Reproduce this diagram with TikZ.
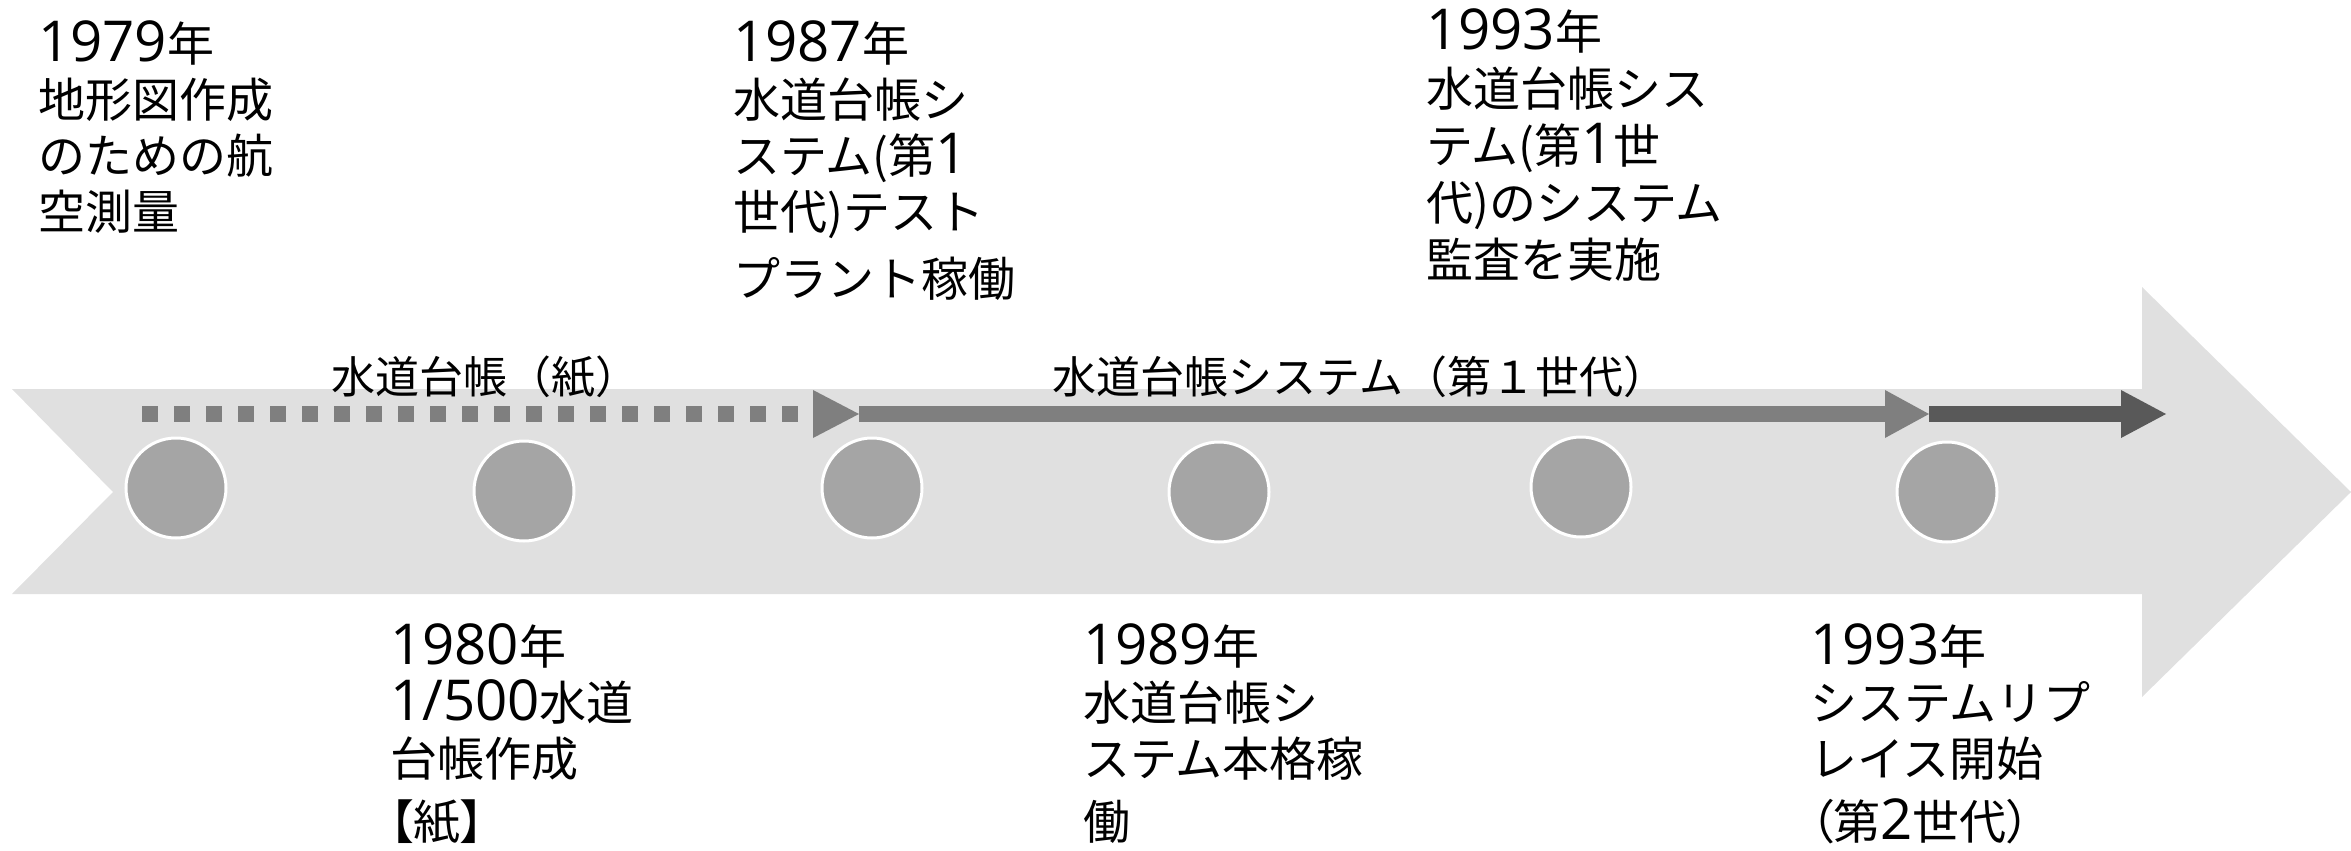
\documentclass[tikz,border=0pt]{standalone}
\usepackage{fontspec}
\setmainfont{Noto Sans CJK JP}
\newfontfamily\numf[Scale=1.2]{Open Sans}
\newcommand\dgt[1]{{\numf #1}}
\newcommand\prop{\addfontfeatures{RawFeature=+palt}}
\definecolor{bodygray}{HTML}{E0E0E0}
\definecolor{dotgray}{HTML}{A5A5A5}
\definecolor{midgray}{HTML}{7F7F7F}
\definecolor{darkgray2}{HTML}{595959}
\begin{document}
\begin{tikzpicture}[x=1pt,y=-1pt,
  blk/.style={anchor=base west, inner sep=0pt, font=\fontsize{47}{56}\selectfont},
  lbl/.style={anchor=base, inner sep=0pt, font=\fontsize{44}{50}\selectfont},
  dot/.style={circle, fill=dotgray, draw=white, line width=3pt, minimum size=100pt, inner sep=0pt},
  shaft/.style={line width=16pt, line cap=butt},
  papershaft/.style={shaft, midgray, dash pattern=on 16pt off 16pt},
]
\useasboundingbox (0,0) rectangle (2351,851);
% big timeline arrow
\fill[bodygray] (12,389) -- (2142,389) -- (2142,287) -- (2351,492) -- (2142,697)
  -- (2142,594) -- (12,594) -- (113,492) -- cycle;
% labels
\node[lbl] (paper) at (485,393) {水道台帳（紙）};
\node[lbl] (gen1) at (1360,393) {水道台帳システム（第１世代）};
% arrow coordinates
\coordinate (p0) at (142,414);
\coordinate (p1) at (813,414);
\coordinate (p2) at (859,414);
\coordinate (s1) at (1885,414);
\coordinate (s2) at (1929,414);
\coordinate (r1) at (2121,414);
\coordinate (r2) at (2166,414);
% paper era (dotted)
\draw[papershaft] (p0) -- (p1);
\fill[midgray] ([yshift=24pt]p1) -- (p2) -- ([yshift=-24pt]p1) -- cycle;
% first generation
\draw[shaft, midgray] (p2) -- (s1);
\fill[midgray] ([yshift=24pt]s1) -- (s2) -- ([yshift=-24pt]s1) -- cycle;
% second generation
\draw[shaft, darkgray2] (s2) -- (r1);
\fill[darkgray2] ([yshift=24pt]r1) -- (r2) -- ([yshift=-24pt]r1) -- cycle;
% milestone dots
\node[dot] (c1) at (176,488) {};
\node[dot] (c2) at (524,491) {};
\node[dot] (c3) at (872,488) {};
\node[dot] (c4) at (1219,492) {};
\node[dot] (c5) at (1581,487) {};
\node[dot] (c6) at (1947,492) {};
% texts above
\node[blk] (t1979) at (38,62) {\vtop{\hbox{\dgt{1979}年}\hbox{地形図作成}\hbox{のための航}\hbox{空測量}}};
\node[blk] (t1987) at (733,62) {\vtop{\hbox{\dgt{1987}年}\hbox{水道台帳シ}\hbox{ステム(第\dgt{1}}\hbox{世代)テスト}\vskip11pt\hbox{プラント稼働}}};
\node[blk] (t1993a) at (1426,50) {\vtop{\baselineskip=57pt\hbox{\dgt{1993}年}\hbox{水道台帳シス}\hbox{テム(第\dgt{1}世}\hbox{代)のシステム}\hbox{監査を実施}}};
% texts below
\node[blk] (t1980) at (390,664) {\vtop{\hbox{\dgt{1980}年}\hbox{\dgt{1/500}水道}\hbox{台帳作成}\vskip7pt\hbox{\prop【紙】}}};
\node[blk] (t1989) at (1083,664) {\vtop{\hbox{\dgt{1989}年}\hbox{水道台帳シ}\hbox{ステム本格稼}\vskip7pt\hbox{働}}};
\node[blk] (t1993b) at (1810,664) {\vtop{\hbox{\dgt{1993}年}\hbox{システムリプ}\hbox{レイス開始}\vskip7pt\hbox{{\prop（}第\dgt{2}世代{\prop）}}}};
\end{tikzpicture}
\end{document}
